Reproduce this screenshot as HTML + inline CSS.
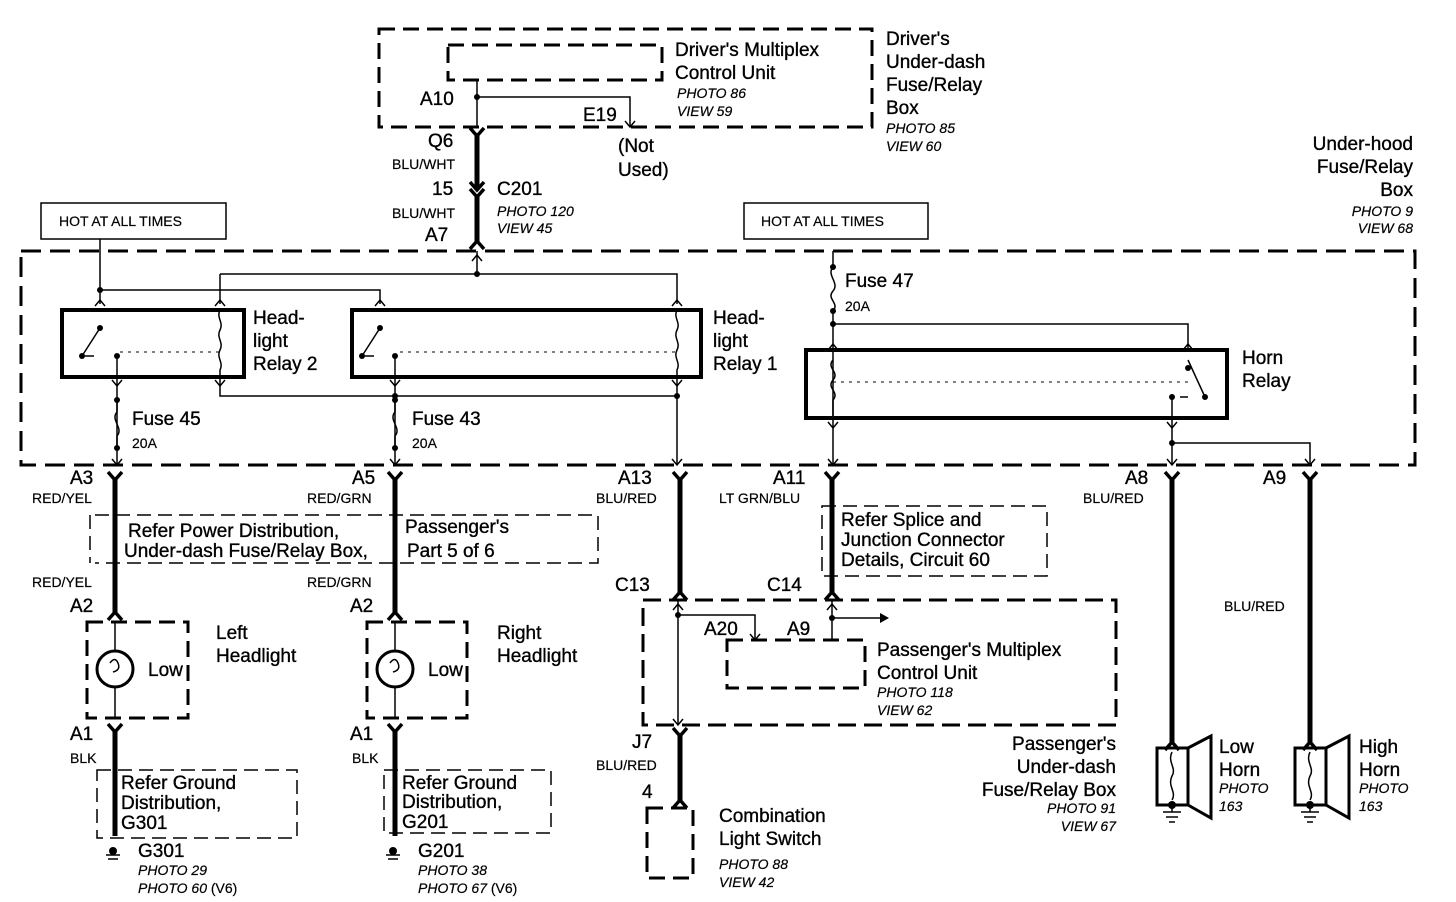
<!DOCTYPE html>
<html><head><meta charset="utf-8"><style>
html,body{margin:0;padding:0;background:#fff}
svg{display:block}
text{font-family:"Liberation Sans",sans-serif;fill:#000}
.l{font-size:19px;stroke:#000;stroke-width:0.35}
.s{font-size:14px}
.i{font-size:14px;font-style:italic;stroke:#000;stroke-width:0.2}
.w{font-size:14px;stroke:#000;stroke-width:0.2}
</style></head><body>
<svg width="1456" height="902" viewBox="0 0 1456 902" xmlns="http://www.w3.org/2000/svg">
<defs>
<g id="cu"><path d="M-7,-8 L0,0 L7,-8" fill="none" stroke="#000" stroke-width="3.5"/></g>
<g id="cd"><path d="M-7,8 L0,0 L7,8" fill="none" stroke="#000" stroke-width="3.5"/></g>
<g id="au"><path d="M-5,6 L0,0 L5,6" fill="none" stroke="#000" stroke-width="1.5"/></g>
<g id="ad"><path d="M-5,-6 L0,0 L5,-6" fill="none" stroke="#000" stroke-width="1.5"/></g>
</defs>
<g fill="none" stroke="#000">
<rect x="379" y="29" width="493" height="98" stroke-width="3" stroke-dasharray="16,8"/>
<rect x="448" y="45" width="214" height="35" stroke-width="3" stroke-dasharray="16,8"/>
<path d="M477 80 V127 M477 97 H630 V127" stroke-width="1.5"/>
<path d="M477 136 V190 M477 197 V241" stroke-width="5"/>
<rect x="41" y="203" width="185" height="36" stroke-width="1.5"/>
<rect x="744" y="203" width="184" height="36" stroke-width="1.5"/>
<rect x="21" y="251" width="1394" height="214" stroke-width="3" stroke-dasharray="20,9"/>
<rect x="62" y="310" width="182" height="67" stroke-width="4"/>
<rect x="352" y="310" width="349" height="67" stroke-width="4"/>
<rect x="806" y="350" width="421" height="68" stroke-width="4"/>
<g stroke-width="1.5">
<path d="M100 239 V304 M100 290 H380 V304 M477 251 V274 M220 274 H677 V304 M220 274 V304"/>
<path d="M220 310 C216 318 224 322 220 330 C216 338 224 342 220 350 C216 358 224 362 220 370 V386 M220 386 V396 H677"/>
<path d="M677 310 C673 318 681 322 677 330 C673 338 681 342 677 350 C673 358 681 362 677 370 V465"/>
<path d="M100 328 L82 356 M117 356 V465 M380 328 L362 356 M395 356 V465"/>
<path d="M117 400 V412 C110 420 124 428 117 436 V448 M395 400 V412 C388 420 402 428 395 436 V448"/>
<path d="M833 251 V267 C826 275 840 283 833 291 C826 299 840 303 833 311 V465 M833 324 H1188 V350"/>
<path d="M833 360 C826 368 840 372 833 380 C826 388 840 392 833 400 V418"/>
<path d="M1188 360 L1205 397 M1172 397 V465 M1172 443 H1310 V465"/>
</g>
<path d="M120 352 H220 M400 352 H677 M833 382 H1188" stroke-width="1" stroke-dasharray="3,5"/>
<path d="M85 356 H94 M365 356 H374 M1180 397 H1188" stroke-width="1.5"/>
<g stroke-width="5">
<path d="M115 480 V612 M395 480 V612 M115 732 V836 M395 732 V836"/>
<path d="M680 480 V592 M832 480 V592 M680 736 V800 M1172 480 V742 M1310 480 V742"/>
</g>
<path d="M95 515 H598 V563 H95 M90 515 V563" stroke-width="1.5" stroke-dasharray="14,7"/>
<rect x="822" y="506" width="225" height="70" stroke-width="1.5" stroke-dasharray="14,7"/>
<rect x="97" y="770" width="200" height="68" stroke-width="1.5" stroke-dasharray="14,7"/>
<rect x="384" y="770" width="167" height="63" stroke-width="1.5" stroke-dasharray="14,7"/>
<rect x="87" y="622" width="101" height="96" stroke-width="3" stroke-dasharray="16,8"/>
<rect x="367" y="622" width="100" height="96" stroke-width="3" stroke-dasharray="16,8"/>
<circle cx="115" cy="669" r="18" stroke-width="3"/>
<circle cx="395" cy="669" r="18" stroke-width="3"/>
<path d="M115 622 V651 M115 687 V718 M395 622 V651 M395 687 V718" stroke-width="1.5"/>
<path d="M110 663 Q115 656 118 663 Q121 670 113 672 M390 663 Q395 656 398 663 Q401 670 393 672" stroke-width="1.5"/>
<rect x="643" y="600" width="473" height="125" stroke-width="3" stroke-dasharray="18,8"/>
<rect x="727" y="640" width="138" height="48" stroke-width="3" stroke-dasharray="16,8"/>
<path d="M678 600 V725 M678 615 H755 V640 M832 600 V640 M832 618 H880" stroke-width="1.5"/>
<rect x="647" y="808" width="46" height="70" stroke-width="3" stroke-dasharray="16,8"/>
<g stroke-width="3">
<rect x="1157" y="748" width="31" height="57"/><path d="M1188 748 L1211 736 V818 L1188 805"/>
<rect x="1295" y="748" width="31" height="57"/><path d="M1326 748 L1349 736 V818 L1326 805"/>
</g>
<path d="M1172 752 C1167 762 1177 768 1172 776 C1167 786 1177 792 1172 800 M1310 752 C1305 762 1315 768 1310 776 C1305 786 1315 792 1310 800" stroke-width="1.5"/>
<path d="M1163 812 H1181 M1166 817 H1178 M1169 822 H1175 M1301 812 H1319 M1304 817 H1316 M1307 822 H1313 M1172 805 V812 M1310 805 V812" stroke-width="1.5"/>
<path d="M106 855 H120 M108 859 H118 M386 855 H400 M388 859 H398" stroke-width="1.5"/>
</g>
<g>
<use href="#cu" x="477" y="136"/><use href="#cu" x="477" y="190"/><use href="#cu" x="477" y="197"/><use href="#cd" x="477" y="241"/>
<use href="#cu" x="115" y="480"/><use href="#cd" x="115" y="612"/><use href="#cu" x="115" y="732"/>
<use href="#cu" x="395" y="480"/><use href="#cd" x="395" y="612"/><use href="#cu" x="395" y="732"/>
<use href="#cu" x="680" y="480"/><use href="#cd" x="680" y="592"/><use href="#cu" x="680" y="736"/><use href="#cd" x="680" y="800"/>
<use href="#cu" x="832" y="480"/><use href="#cd" x="832" y="592"/>
<use href="#cu" x="1172" y="480"/><use href="#cd" x="1172" y="742"/>
<use href="#cu" x="1310" y="480"/><use href="#cd" x="1310" y="742"/>
<use href="#ad" x="630" y="127"/><use href="#ad" x="755" y="640"/><use href="#ad" x="678" y="725"/>
<use href="#au" x="100" y="300"/><use href="#au" x="220" y="300"/><use href="#au" x="380" y="300"/><use href="#au" x="677" y="300"/>
<use href="#ad" x="117" y="386"/><use href="#ad" x="220" y="386"/><use href="#ad" x="395" y="386"/><use href="#ad" x="677" y="386"/>
<use href="#ad" x="117" y="465"/><use href="#ad" x="395" y="465"/><use href="#ad" x="677" y="465"/><use href="#ad" x="833" y="465"/><use href="#ad" x="1172" y="465"/><use href="#ad" x="1310" y="465"/>
<use href="#au" x="833" y="344"/><use href="#au" x="1188" y="344"/><use href="#ad" x="833" y="428"/><use href="#ad" x="1172" y="428"/>
<use href="#au" x="477" y="255"/><use href="#au" x="678" y="604"/><use href="#au" x="832" y="604"/>
</g>
<g fill="#000">
<circle cx="100" cy="290" r="3"/><circle cx="477" cy="274" r="3"/><circle cx="395" cy="396" r="3"/><circle cx="677" cy="396" r="3"/>
<circle cx="100" cy="328" r="3"/><circle cx="82" cy="356" r="3"/><circle cx="117" cy="356" r="3"/>
<circle cx="380" cy="328" r="3"/><circle cx="362" cy="356" r="3"/><circle cx="395" cy="356" r="3"/>
<circle cx="117" cy="400" r="3"/><circle cx="117" cy="448" r="3"/><circle cx="395" cy="400" r="3"/><circle cx="395" cy="448" r="3"/>
<circle cx="833" cy="267" r="3"/><circle cx="833" cy="311" r="3"/><circle cx="833" cy="324" r="3"/>
<circle cx="1188" cy="368" r="3"/><circle cx="1205" cy="397" r="3"/><circle cx="1172" cy="397" r="3"/><circle cx="1172" cy="443" r="3"/>
<circle cx="678" cy="615" r="3"/><circle cx="832" cy="618" r="3"/><circle cx="477" cy="97" r="3"/>
<path d="M880 613 L889 618 L880 623 Z"/>
<circle cx="1172" cy="805" r="4"/><circle cx="1310" cy="805" r="4"/>
<circle cx="113" cy="851" r="4"/><circle cx="393" cy="851" r="4"/>
</g>
<g class="l">
<text x="675" y="56">Driver's Multiplex</text><text x="675" y="79">Control Unit</text>
<text x="886" y="45">Driver's</text><text x="886" y="68">Under-dash</text><text x="886" y="91">Fuse/Relay</text><text x="886" y="114">Box</text>
<text x="420" y="105">A10</text><text x="583" y="121">E19</text>
<text x="428" y="147">Q6</text><text x="432" y="195">15</text><text x="497" y="195">C201</text><text x="425" y="241">A7</text>
<text x="618" y="152">(Not</text><text x="618" y="176">Used)</text>
<text x="1413" y="150" text-anchor="end">Under-hood</text><text x="1413" y="173" text-anchor="end">Fuse/Relay</text><text x="1413" y="196" text-anchor="end">Box</text>
<text x="253" y="324">Head-</text><text x="253" y="347">light</text><text x="253" y="370">Relay 2</text>
<text x="713" y="324">Head-</text><text x="713" y="347">light</text><text x="713" y="370">Relay 1</text>
<text x="1242" y="364">Horn</text><text x="1242" y="387">Relay</text>
<text x="132" y="425">Fuse 45</text><text x="412" y="425">Fuse 43</text><text x="845" y="287">Fuse 47</text>
<text x="70" y="484">A3</text><text x="352" y="484">A5</text><text x="618" y="484">A13</text><text x="773" y="484">A11</text><text x="1125" y="484">A8</text><text x="1263" y="484">A9</text>
<text x="128" y="537">Refer Power Distribution,</text><text x="124" y="557">Under-dash Fuse/Relay Box,</text>
<text x="405" y="533">Passenger's</text><text x="407" y="557">Part 5 of 6</text>
<text x="841" y="526">Refer Splice and</text><text x="841" y="546">Junction Connector</text><text x="841" y="566">Details, Circuit 60</text>
<text x="70" y="612">A2</text><text x="350" y="612">A2</text><text x="615" y="591">C13</text><text x="767" y="591">C14</text>
<text x="216" y="639">Left</text><text x="216" y="662">Headlight</text><text x="497" y="639">Right</text><text x="497" y="662">Headlight</text>
<text x="148" y="676">Low</text><text x="428" y="676">Low</text>
<text x="704" y="635">A20</text><text x="787" y="635">A9</text>
<text x="877" y="656">Passenger's Multiplex</text><text x="877" y="679">Control Unit</text>
<text x="70" y="740">A1</text><text x="350" y="740">A1</text>
<text x="1116" y="750" text-anchor="end">Passenger's</text><text x="1116" y="773" text-anchor="end">Under-dash</text><text x="1116" y="796" text-anchor="end">Fuse/Relay Box</text>
<text x="632" y="748">J7</text><text x="642" y="798">4</text>
<text x="719" y="822">Combination</text><text x="719" y="845">Light Switch</text>
<text x="1219" y="753">Low</text><text x="1219" y="776">Horn</text><text x="1359" y="753">High</text><text x="1359" y="776">Horn</text>
<text x="121" y="789">Refer Ground</text><text x="121" y="809">Distribution,</text><text x="121" y="829">G301</text>
<text x="402" y="789">Refer Ground</text><text x="402" y="808">Distribution,</text><text x="402" y="828">G201</text>
<text x="138" y="857">G301</text><text x="418" y="857">G201</text>
</g>
<g class="w">
<text x="59" y="226">HOT AT ALL TIMES</text><text x="761" y="226">HOT AT ALL TIMES</text>
<text x="392" y="169">BLU/WHT</text><text x="392" y="218">BLU/WHT</text>
<text x="132" y="448">20A</text><text x="412" y="448">20A</text><text x="845" y="311">20A</text>
<text x="32" y="503">RED/YEL</text><text x="307" y="503">RED/GRN</text><text x="596" y="503">BLU/RED</text><text x="719" y="503">LT GRN/BLU</text><text x="1083" y="503">BLU/RED</text>
<text x="32" y="587">RED/YEL</text><text x="307" y="587">RED/GRN</text><text x="1224" y="611">BLU/RED</text>
<text x="70" y="763">BLK</text><text x="352" y="763">BLK</text><text x="596" y="770">BLU/RED</text>
</g>
<g class="i">
<text x="677" y="98">PHOTO 86</text><text x="677" y="116">VIEW 59</text>
<text x="886" y="133">PHOTO 85</text><text x="886" y="151">VIEW 60</text>
<text x="497" y="216">PHOTO 120</text><text x="497" y="233">VIEW 45</text>
<text x="1413" y="216" text-anchor="end">PHOTO 9</text><text x="1413" y="233" text-anchor="end">VIEW 68</text>
<text x="877" y="697">PHOTO 118</text><text x="877" y="715">VIEW 62</text>
<text x="1116" y="813" text-anchor="end">PHOTO 91</text><text x="1116" y="831" text-anchor="end">VIEW 67</text>
<text x="719" y="869">PHOTO 88</text><text x="719" y="887">VIEW 42</text>
<text x="1219" y="793">PHOTO</text><text x="1219" y="811">163</text><text x="1359" y="793">PHOTO</text><text x="1359" y="811">163</text>
<text x="138" y="875">PHOTO 29</text><text x="138" y="893">PHOTO 60 <tspan font-style="normal">(V6)</tspan></text>
<text x="418" y="875">PHOTO 38</text><text x="418" y="893">PHOTO 67 <tspan font-style="normal">(V6)</tspan></text>
</g>
</svg>
</body></html>
